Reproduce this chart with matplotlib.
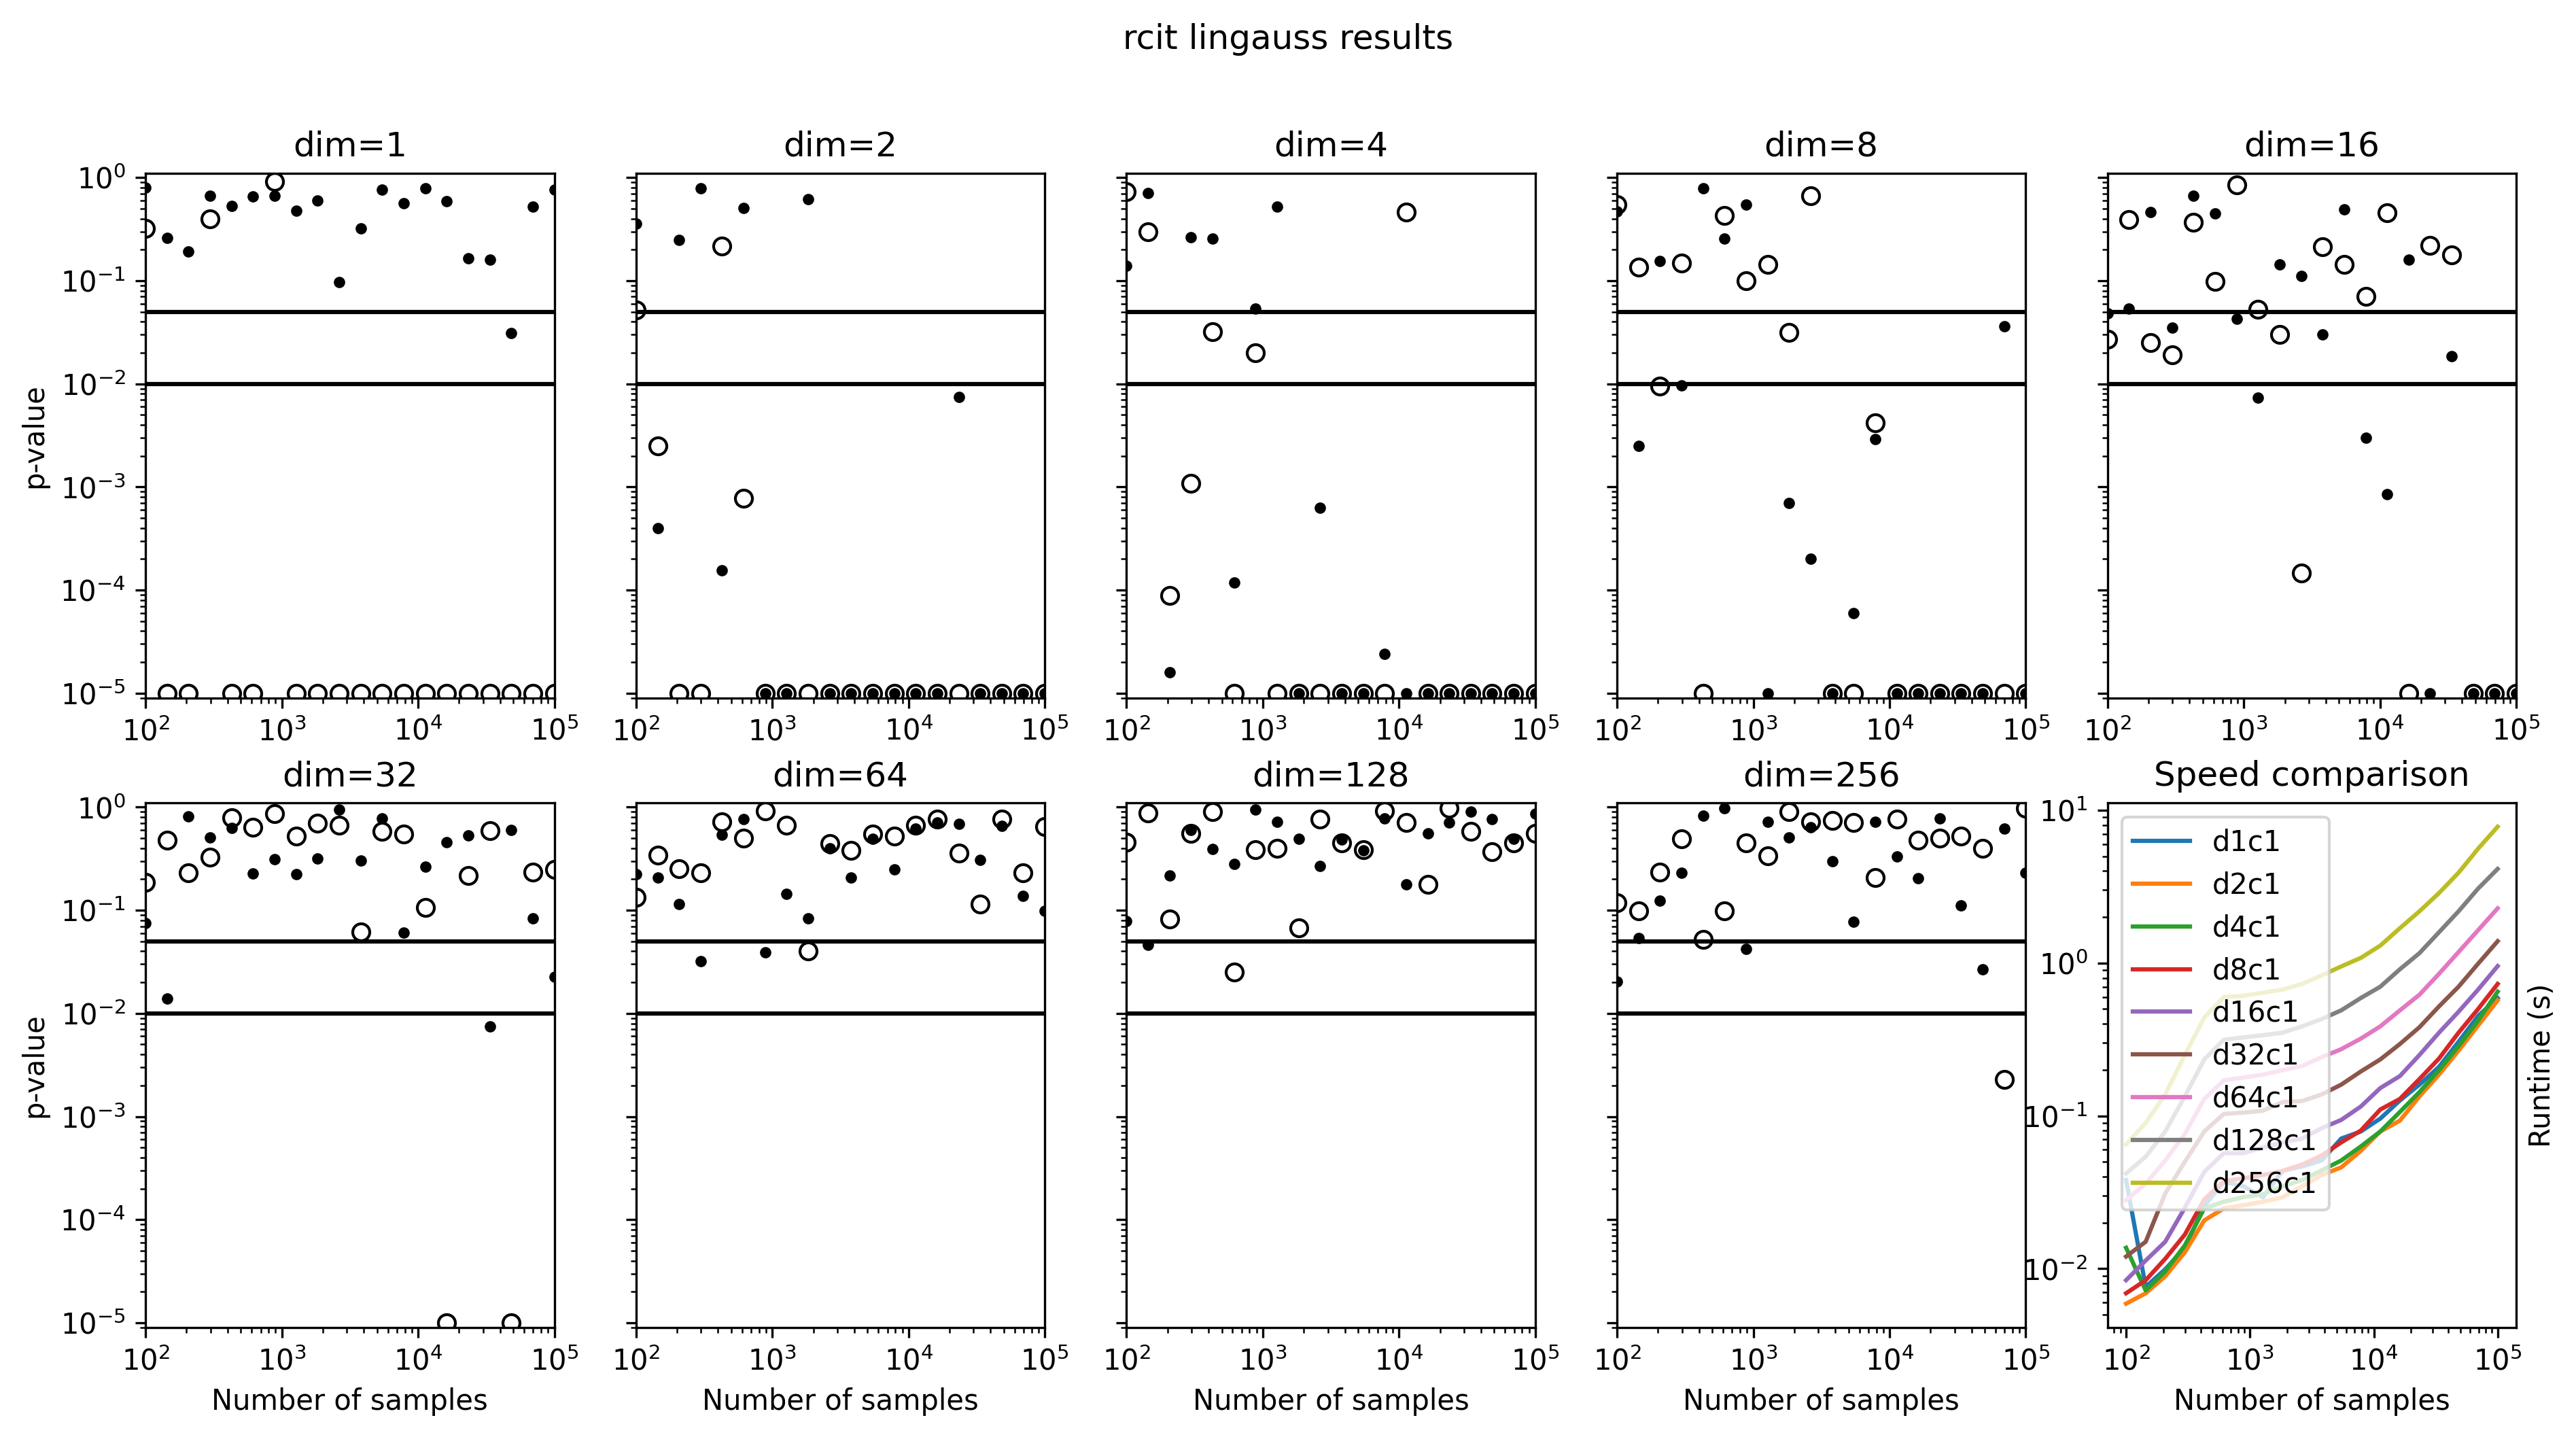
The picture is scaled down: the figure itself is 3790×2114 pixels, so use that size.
import matplotlib
matplotlib.use("Agg")
import matplotlib.pyplot as plt

# sample sizes (same grid for every panel)
n_samples = [100, 144, 207, 298, 428, 616, 886, 1274, 1833, 2637,
             3793, 5456, 7848, 11288, 16238, 23357, 33598, 48329, 69519, 100000]

# p-values, 1e-5 is the floor (zero p-values)
dot_d1 = [0.80, 0.26, 0.193, 0.67, 0.53, 0.66, 0.67, 0.48, 0.60, 0.097,
          0.32, 0.76, 0.56, 0.79, 0.59, 0.165, 0.16, 0.031, 0.525, 0.76]
circ_d1 = [0.32, 1e-5, 1e-5, 0.40, 1e-5, 1e-5, 0.92, 1e-5, 1e-5, 1e-5,
           1e-5, 1e-5, 1e-5, 1e-5, 1e-5, 1e-5, 1e-5, 1e-5, 1e-5, 1e-5]

dot_d2 = [0.36, 4.0e-4, 0.248, 0.79, 1.55e-4, 0.51, 1e-5, 1e-5, 0.62, 1e-5,
          1e-5, 1e-5, 1e-5, 1e-5, 1e-5, 0.0075, 1e-5, 1e-5, 1e-5, 1e-5]
circ_d2 = [0.052, 0.0025, 1e-5, 1e-5, 0.217, 7.8e-4, 1e-5, 1e-5, 1e-5, 1e-5,
           1e-5, 1e-5, 1e-5, 1e-5, 1e-5, 1e-5, 1e-5, 1e-5, 1e-5, 1e-5]

dot_d4 = [0.14, 0.71, 1.6e-5, 0.265, 0.257, 1.19e-4, 0.054, 0.52, 1e-5, 6.3e-4,
          1e-5, 1e-5, 2.4e-5, 1e-5, 1e-5, 1e-5, 1e-5, 1e-5, 1e-5, 1e-5]
circ_d4 = [0.73, 0.30, 8.9e-5, 1.08e-3, 0.032, 1e-5, 0.020, 1e-5, 1e-5, 1e-5,
           1e-5, 1e-5, 1e-5, 0.46, 1e-5, 1e-5, 1e-5, 1e-5, 1e-5, 1e-5]

dot_d8 = [0.47, 2.5e-3, 0.155, 0.0096, 0.79, 0.257, 0.55, 1e-5, 7.0e-4, 2.0e-4,
          1e-5, 6.0e-5, 2.9e-3, 1e-5, 1e-5, 1e-5, 1e-5, 1e-5, 0.036, 1e-5]
circ_d8 = [0.55, 0.136, 0.0095, 0.149, 1e-5, 0.43, 0.10, 0.143, 0.0316, 0.67,
           1e-5, 1e-5, 4.2e-3, 1e-5, 1e-5, 1e-5, 1e-5, 1e-5, 1e-5, 1e-5]

dot_d16 = [0.048, 0.054, 0.46, 0.035, 0.67, 0.45, 0.043, 7.4e-3, 0.144, 0.111,
           0.030, 0.49, 3.0e-3, 8.5e-4, 0.16, 1e-5, 0.0184, 1e-5, 1e-5, 1e-5]
circ_d16 = [0.027, 0.39, 0.025, 0.019, 0.37, 0.099, 0.85, 0.053, 0.030, 1.47e-4,
            0.213, 0.144, 0.071, 0.456, 1e-5, 0.221, 0.177, 1e-5, 1e-5, 1e-5]

dot_d32 = [0.075, 0.0139, 0.81, 0.51, 0.63, 0.226, 0.315, 0.223, 0.318, 0.95,
           0.305, 0.78, 0.061, 0.265, 0.46, 0.53, 7.5e-3, 0.605, 0.083, 0.0228]
circ_d32 = [0.186, 0.48, 0.232, 0.325, 0.79, 0.64, 0.86, 0.525, 0.70, 0.665,
            0.062, 0.58, 0.55, 0.107, 1e-5, 0.216, 0.595, 1e-5, 0.235, 0.249]

dot_d64 = [0.223, 0.207, 0.115, 0.032, 0.54, 0.77, 0.039, 0.145, 0.083, 0.40,
           0.207, 0.49, 0.249, 0.62, 0.71, 0.69, 0.308, 0.66, 0.137, 0.098]
circ_d64 = [0.134, 0.34, 0.253, 0.232, 0.72, 0.50, 0.92, 0.665, 0.040, 0.44,
            0.38, 0.55, 0.52, 0.67, 0.77, 0.357, 0.114, 0.77, 0.23, 0.65]

dot_d128 = [0.078, 0.046, 0.218, 0.60, 0.39, 0.28, 0.95, 0.72, 0.49, 0.27,
            0.485, 0.38, 0.78, 0.179, 0.555, 0.71, 0.91, 0.77, 0.49, 0.86]
circ_d128 = [0.46, 0.88, 0.082, 0.56, 0.90, 0.025, 0.386, 0.40, 0.068, 0.77,
             0.45, 0.386, 0.92, 0.71, 0.177, 0.97, 0.58, 0.37, 0.45, 0.56]

dot_d256 = [0.0203, 0.054, 0.124, 0.232, 0.83, 0.97, 0.042, 0.72, 0.51, 0.64,
            0.30, 0.077, 0.72, 0.333, 0.205, 0.78, 0.112, 0.0267, 0.62, 0.23]
circ_d256 = [0.119, 0.098, 0.235, 0.49, 0.052, 0.098, 0.45, 0.336, 0.90, 0.72,
             0.74, 0.71, 0.206, 0.77, 0.48, 0.50, 0.525, 0.40, 2.3e-3, 0.97]

# runtimes in seconds
rt_d1c1 = [0.038, 0.0076, 0.0099, 0.0137, 0.0257, 0.037, 0.0346, 0.0293, 0.0436, 0.0466,
           0.051, 0.071, 0.079, 0.096, 0.126, 0.16, 0.209, 0.305, 0.45, 0.59]
rt_d2c1 = [0.0059, 0.0069, 0.0089, 0.0128, 0.0207, 0.0248, 0.026, 0.0274, 0.0293, 0.0346,
           0.041, 0.046, 0.059, 0.079, 0.093, 0.134, 0.186, 0.267, 0.39, 0.57]
rt_d4c1 = [0.0137, 0.0072, 0.0096, 0.0142, 0.0248, 0.0274, 0.0294, 0.0307, 0.0346, 0.038,
           0.044, 0.051, 0.063, 0.079, 0.106, 0.143, 0.199, 0.286, 0.42, 0.65]
rt_d8c1 = [0.0069, 0.0084, 0.0116, 0.0167, 0.0284, 0.0374, 0.039, 0.041, 0.0436, 0.048,
           0.055, 0.067, 0.080, 0.110, 0.129, 0.174, 0.237, 0.35, 0.50, 0.73]
rt_d16c1 = [0.0084, 0.0113, 0.015, 0.025, 0.043, 0.057, 0.057, 0.062, 0.067, 0.071,
            0.083, 0.094, 0.115, 0.152, 0.182, 0.25, 0.35, 0.48, 0.67, 0.955]
rt_d32c1 = [0.012, 0.015, 0.031, 0.050, 0.079, 0.103, 0.105, 0.108, 0.123, 0.125,
            0.138, 0.16, 0.195, 0.234, 0.295, 0.38, 0.52, 0.70, 0.99, 1.39]
rt_d64c1 = [0.028, 0.036, 0.051, 0.076, 0.129, 0.171, 0.178, 0.186, 0.199, 0.212,
            0.242, 0.273, 0.32, 0.385, 0.49, 0.62, 0.85, 1.18, 1.64, 2.28]
rt_d128c1 = [0.042, 0.054, 0.079, 0.134, 0.234, 0.315, 0.326, 0.337, 0.35, 0.385,
             0.43, 0.49, 0.59, 0.70, 0.91, 1.16, 1.59, 2.18, 3.07, 4.13]
rt_d256c1 = [0.065, 0.09, 0.138, 0.25, 0.44, 0.60, 0.61, 0.64, 0.67, 0.73,
             0.83, 0.95, 1.08, 1.30, 1.69, 2.18, 2.87, 3.9, 5.6, 7.8]

dims = [1, 2, 4, 8, 16, 32, 64, 128, 256]
dot_vals = [dot_d1, dot_d2, dot_d4, dot_d8, dot_d16, dot_d32, dot_d64, dot_d128, dot_d256]
circ_vals = [circ_d1, circ_d2, circ_d4, circ_d8, circ_d16, circ_d32, circ_d64, circ_d128, circ_d256]
runtimes = [rt_d1c1, rt_d2c1, rt_d4c1, rt_d8c1, rt_d16c1, rt_d32c1, rt_d64c1, rt_d128c1, rt_d256c1]

fig, axes = plt.subplots(2, 5, figsize=(3790 / 300, 2114 / 300), dpi=300)
fig.subplots_adjust(left=0.0565, right=0.9768, top=0.8794, bottom=0.0762,
                    wspace=0.2, hspace=0.2)

for k, d in enumerate(dims):
    ax = axes.flat[k]
    ax.plot(n_samples, circ_vals[k], 'o', mfc='none', mec='k', color='k')
    ax.plot(n_samples, dot_vals[k], 'k.')
    ax.axhline(0.05, color='k')
    ax.axhline(0.01, color='k')
    ax.set_xscale('log')
    ax.set_yscale('log')
    ax.set_xlim(1e2, 1e5)
    ax.set_ylim(0.9e-5, 1.1)
    ax.set_title('dim=%d' % d)
    if k % 5 == 0:
        ax.set_ylabel('p-value')
    else:
        ax.tick_params(labelleft=False)
    if k >= 5:
        ax.set_xlabel('Number of samples')

# speed comparison
ax = axes.flat[9]
for k, d in enumerate(dims):
    ax.plot(n_samples, runtimes[k], label='d%dc1' % d)
ax.set_xscale('log')
ax.set_yscale('log')
ax.set_title('Speed comparison')
ax.set_xlabel('Number of samples')
ax.set_ylabel('Runtime (s)')
ax.yaxis.set_label_position('right')
ax.legend(loc='upper left')

fig.suptitle('rcit lingauss results', y=0.984)
fig.savefig('out.png', dpi=300)
